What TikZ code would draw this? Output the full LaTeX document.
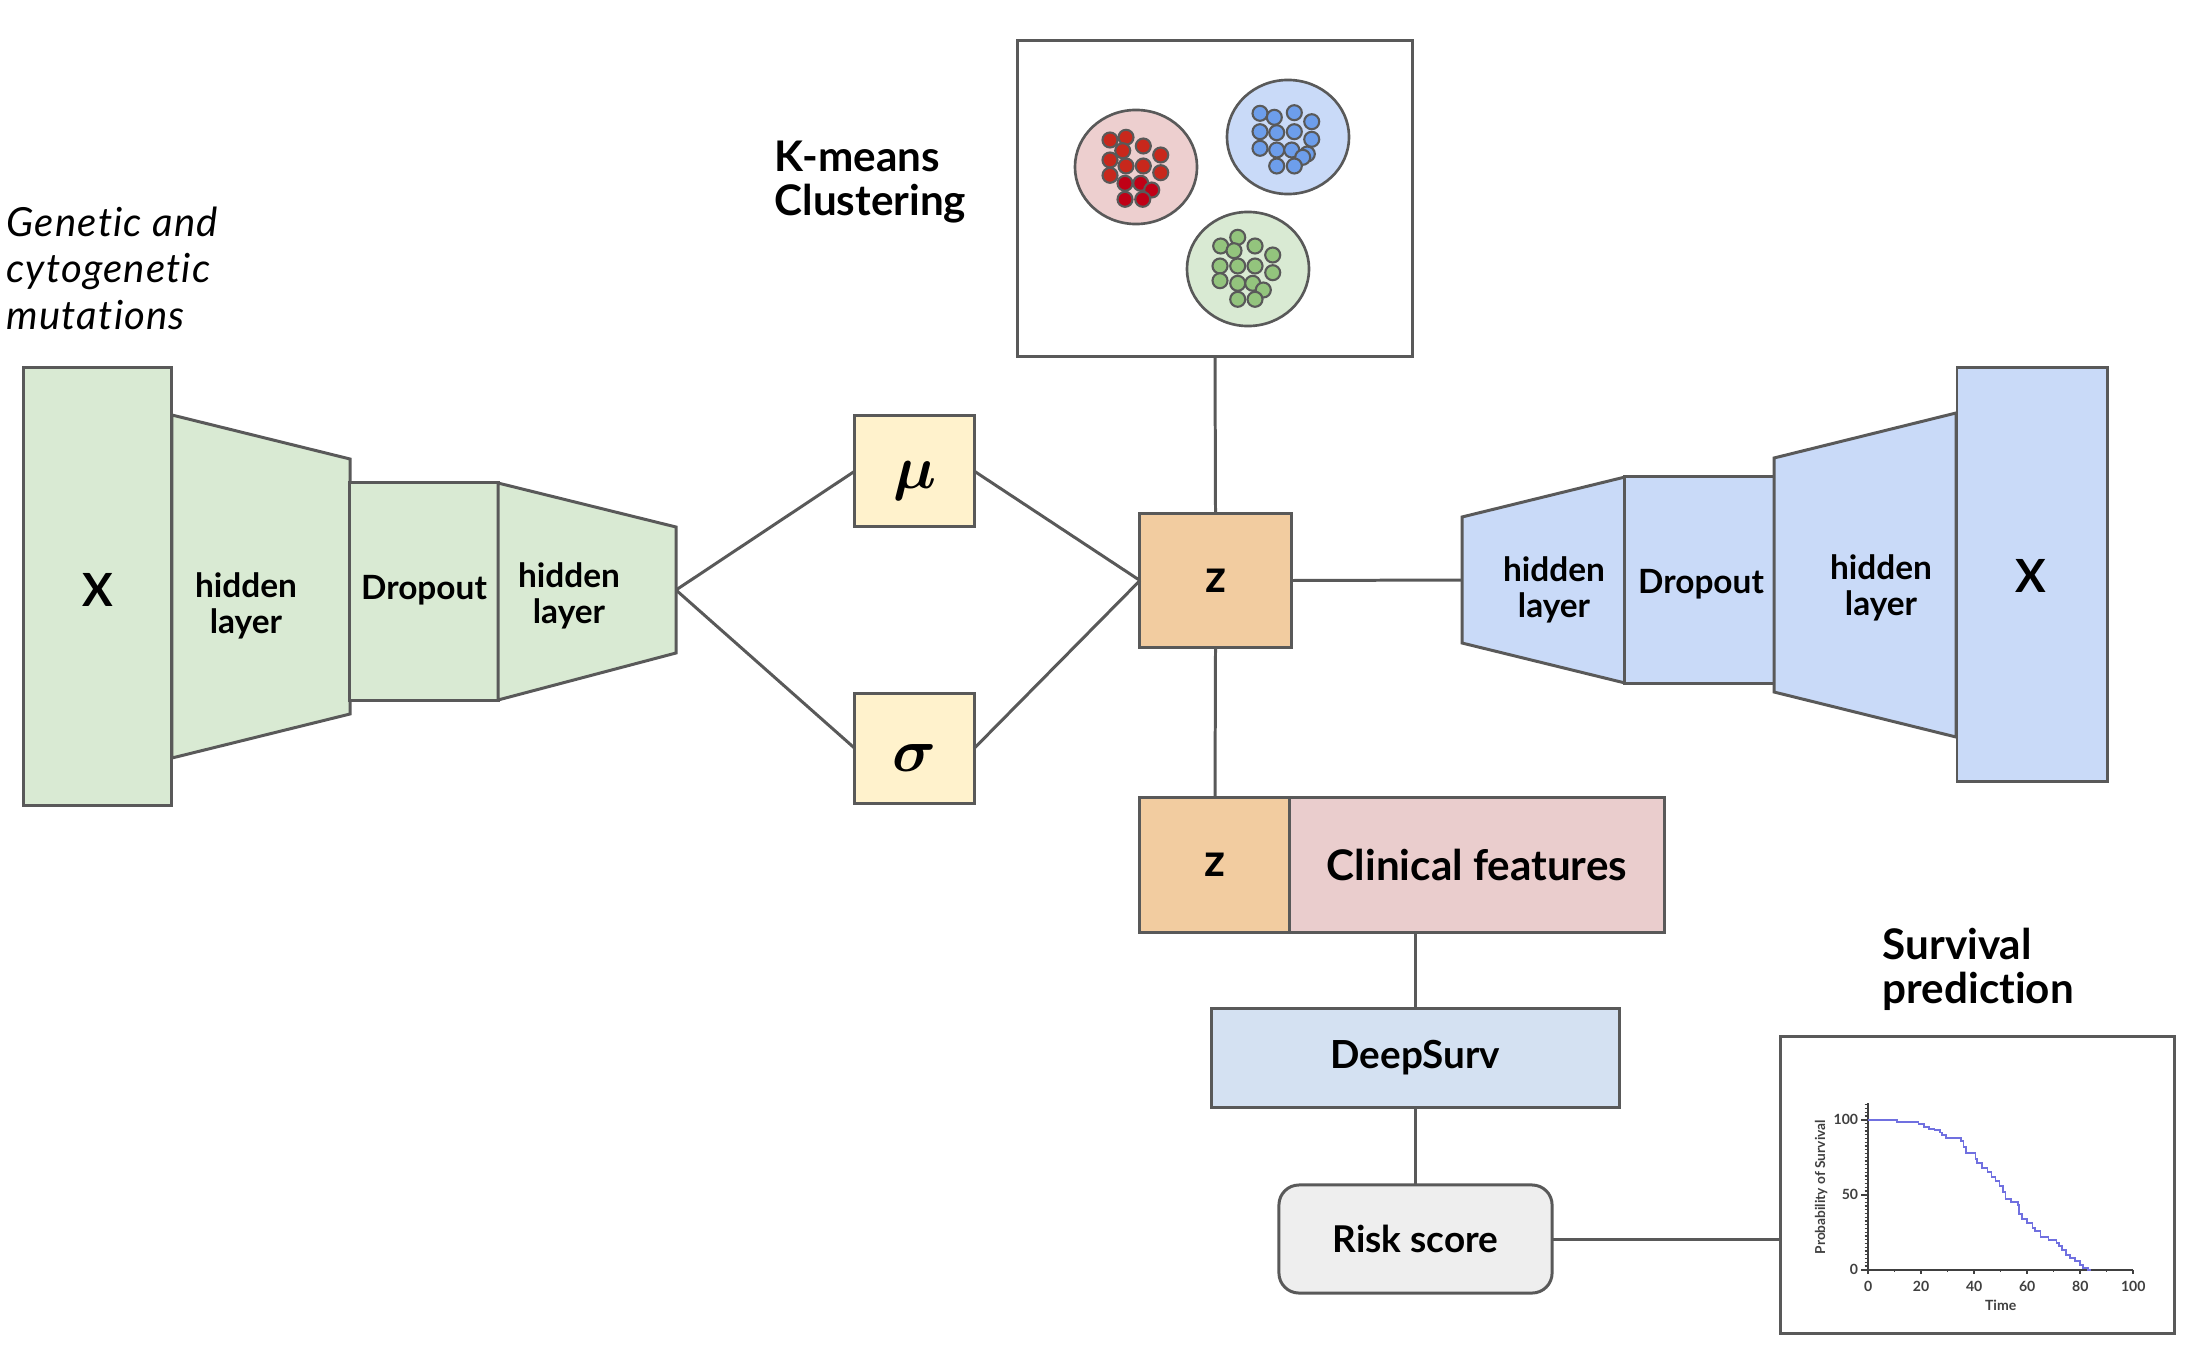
\documentclass[tikz,border=0pt]{standalone}
\usepackage{fontspec}
\setmainfont{Lato}[Ligatures=NoCommon]
\usepackage{bm}
\definecolor{edgec}{HTML}{595959}
\definecolor{encg}{HTML}{D9EAD3}
\definecolor{decb}{HTML}{C9DAF8}
\definecolor{muy}{HTML}{FFF2CC}
\definecolor{zor}{HTML}{F2CCA0}
\definecolor{clin}{HTML}{EACDCD}
\definecolor{dsurv}{HTML}{D4E1F2}
\definecolor{risk}{HTML}{EEEEEE}
\definecolor{ellr}{HTML}{EDCFCF}
\definecolor{dotr}{HTML}{C8281C}
\definecolor{dotrr}{HTML}{C00016}
\definecolor{dotb}{HTML}{6D9EEB}
\definecolor{dotg}{HTML}{93C47D}
\definecolor{kmc}{HTML}{7070E0}
\definecolor{axc}{HTML}{404040}
\begin{document}
\begin{tikzpicture}[x=0.01cm,y=-0.01cm,
  edge/.style={draw=edgec, line width=0.85pt},
  bx/.style={edge, inner sep=0pt, outer sep=0pt},
  lbl/.style={font=\bfseries\fontsize{9.5}{10.3}\selectfont, align=center, inner sep=0pt},
  big/.style={font=\bfseries\fontsize{13}{15}\selectfont, inner sep=0pt},
  title/.style={font=\bfseries\fontsize{12}{12.6}\selectfont, align=left, inner sep=0pt, anchor=north west},
  dot/.style={draw=edgec, line width=0.6pt},
  ell/.style={draw=edgec, line width=0.75pt},
  tick/.style={draw=axc, line width=0.35pt},
  tiny/.style={font=\bfseries\fontsize{4}{4.5}\selectfont, text=axc, inner sep=0pt}]
\useasboundingbox (0,0) rectangle (2204,1358);

% ---------- captions ----------
\node[font=\itshape\fontsize{11.4}{13.2}\selectfont\addfontfeatures{LetterSpace=3}, align=left, inner sep=0pt, anchor=north west]
  (gen) at (6,206) {Genetic and\\cytogenetic\\mutations};
\node[title] (km) at (774,140) {K-means\\Clustering};
\node[title] (sp) at (1882,927) {Survival\\prediction};

% ---------- encoder ----------
\node[bx, fill=encg, minimum width=1.47cm, minimum height=4.37cm] (encX) at (97.5,586.5) {};
\node[big] (encXl) at (98,590) {X};
\filldraw[edge, fill=encg] (172,415) -- (350,459) -- (350,714) -- (172,758) -- cycle;
\node[lbl] (ench1) at (246,606) {hidden\\layer};
\node[bx, fill=encg, minimum width=1.48cm, minimum height=2.17cm] (encD) at (424,591.5) {};
\node[lbl] (encDl) at (424,590) {Dropout};
\filldraw[edge, fill=encg] (498,483) -- (676,527) -- (676,653) -- (498,700) -- cycle;
\node[lbl] (ench2) at (569,596) {hidden\\layer};
\coordinate (enctip) at (676,590);

% ---------- mu / sigma / z ----------
\node[bx, fill=muy, minimum width=1.19cm, minimum height=1.10cm] (mu) at (914.5,471)
  {\fontsize{17}{20}\selectfont\raisebox{-5pt}[0pt][0pt]{$\bm{\mu}$}};
\node[bx, fill=muy, minimum width=1.19cm, minimum height=1.09cm] (sig) at (914.5,748.5)
  {\fontsize{17}{20}\selectfont\raisebox{-6.5pt}[0pt][0pt]{$\bm{\sigma}$}};
\node[bx, fill=zor, minimum width=1.51cm, minimum height=1.33cm, font=\bfseries\fontsize{13}{15}\selectfont] (z) at (1215.5,580.5) {z};

\draw[edge] (enctip) -- (mu.west);
\draw[edge] (enctip) -- (sig.west);
\draw[edge] (mu.east) -- (z.west);
\draw[edge] (sig.east) -- (z.west);

% ---------- clustering box ----------
\node[bx, fill=white, minimum width=3.94cm, minimum height=3.15cm] (clus) at (1215,198.5) {};
\draw[ell, fill=ellr] (1136,167) ellipse [x radius=0.61cm, y radius=0.57cm];
\draw[ell, fill=decb] (1288,137) ellipse [x radius=0.61cm, y radius=0.57cm];
\draw[ell, fill=encg] (1248,269) ellipse [x radius=0.61cm, y radius=0.57cm];
\foreach \px/\py in {1110/140,1126/137.3,1122.7/150.7,1143.3/146,1160.7/155,1110/160,1126/166,1143.3/166,1160.7/172.7,1110/175.3}
  \draw[dot, fill=dotr] (\px,\py) circle [radius=0.075cm];
\foreach \px/\py in {1125/183.3,1140.7/183.3,1151.7/190,1125/199.3,1142.7/199.3}
  \draw[dot, fill=dotrr] (\px,\py) circle [radius=0.075cm];
\foreach \px/\py in {1260/113.3,1274.3/117.3,1294.3/112.7,1311.7/121.7,1260/131.7,1276.7/132.7,1294.3/131.7,1311.7/139.3,1260/148.3,1276.7/150,1291.7/150,1307.3/154,1302.7/157.3,1276.7/166,1294.3/166}
  \draw[dot, fill=dotb] (\px,\py) circle [radius=0.075cm];
\foreach \px/\py in {1220.7/246,1237.7/237.3,1234/250.7,1255/246,1272.7/255,1220/266,1237.7/266,1255/266,1272.7/272.7,1220/280.7,1237.7/283.3,1252.7/283.3,1263.3/290,1237.7/299.3,1255/299.3}
  \draw[dot, fill=dotg] (\px,\py) circle [radius=0.075cm];
\draw[edge] (clus.south) -- (z.north);

% ---------- decoder ----------
\filldraw[edge, fill=decb] (1462,517) -- (1625,477) -- (1625,683) -- (1462,643) -- cycle;
\node[lbl] (dech1) at (1554,590) {hidden\\layer};
\node[bx, fill=decb, minimum width=1.49cm, minimum height=2.06cm] (decD) at (1699.5,580) {};
\node[lbl] (decDl) at (1701,584) {Dropout};
\filldraw[edge, fill=decb] (1774,458) -- (1956,413) -- (1956,737) -- (1774,692) -- cycle;
\node[lbl] (dech2) at (1881,588) {hidden\\layer};
\node[bx, fill=decb, minimum width=1.50cm, minimum height=4.13cm] (decX) at (2032,574.5) {};
\node[big] (decXl) at (2031,576) {X};
\coordinate (dectip) at (1462,580);
\draw[edge] (z.east) -- (dectip);

% ---------- survival branch ----------
\node[bx, fill=zor, minimum width=1.50cm, minimum height=1.34cm, font=\bfseries\fontsize{13}{15}\selectfont] (z2) at (1215,865) {z};
\node[bx, fill=clin, minimum width=3.74cm, minimum height=1.34cm, font=\bfseries\fontsize{12}{14}\selectfont] (clin) at (1477,865) {Clinical features};
\node[bx, fill=dsurv, minimum width=4.07cm, minimum height=0.98cm, font=\bfseries\fontsize{11}{13}\selectfont] (deep) at (1415.5,1058) {DeepSurv};
\node[bx, fill=risk, rounded corners=0.2cm, minimum width=2.73cm, minimum height=1.08cm, font=\bfseries\fontsize{10.5}{12}\selectfont] (risk) at (1415.5,1239) {Risk score};
\node[bx, fill=white, minimum width=3.93cm, minimum height=2.96cm] (surv) at (1977.5,1185) {};
\draw[edge] (z.south) -- (z2.north);
\draw[edge] (deep.north |- clin.south) -- (deep.north);
\draw[edge] (deep.south) -- (risk.north);
\draw[edge] (risk.east) -- (risk.east -| surv.west);

% ---------- KM plot ----------
\begin{scope}[shift={(18.67cm,-12.69cm)}, x=0.0265cm, y=0.015cm]
  \foreach \v in {2.5,5,...,110} \draw[tick] (-1.3,\v) -- (0,\v);
  \foreach \v in {0,50,100} \draw[tick, line width=0.5pt] (-2.5,\v) -- (0,\v);
  \foreach \t in {10,30,50,70,90} \draw[tick] (\t,0) -- (\t,-1.5);
  \foreach \t in {0,20,40,60,80,100} \draw[tick, line width=0.5pt] (\t,0) -- (\t,-3);
  \draw[axc, line width=0.6pt] (0,0) -- (100,0);
  \draw[axc, line width=0.6pt] (0,0) -- (0,111);
  \foreach \v in {0,50,100} \node[tiny, anchor=east] (yl\v) at (-3.5,\v) {\v};
  \foreach \t in {0,20,40,60,80,100} \node[tiny] (xl\t) at (\t,-11) {\t};
  \node[tiny] (tlab) at (50,-24) {Time};
  \node[tiny, font=\bfseries\fontsize{3.9}{4.4}\selectfont, rotate=90] (plab) at (-17.7,55) {Probability of Survival};
  \draw[kmc, line width=0.5pt] (0,100) -| (11,98.4) -| (19,97) -| (21,95) -| (23,94) -| (25,93)
    -| (27,91.5) -| (28,90) -| (29.5,88) -| (35,86) -| (36,82) -| (37,78) -| (40.5,74) -| (41,71)
    -| (43,68) -| (45,65) -| (46.5,62) -| (48,59) -| (49.5,56) -| (51,52) -| (51.8,47) -| (54,45)
    -| (56.5,43) -| (57,37) -| (58,34) -| (60,31) -| (62,28) -| (63,26) -| (65,22) -| (68,20)
    -| (71,18) -| (72,16) -| (73,13) -| (74.5,10) -| (76,8) -| (78,6) -| (80,3) -| (81,1) -| (83,0) -- (84,0);
\end{scope}
\end{tikzpicture}
\end{document}
